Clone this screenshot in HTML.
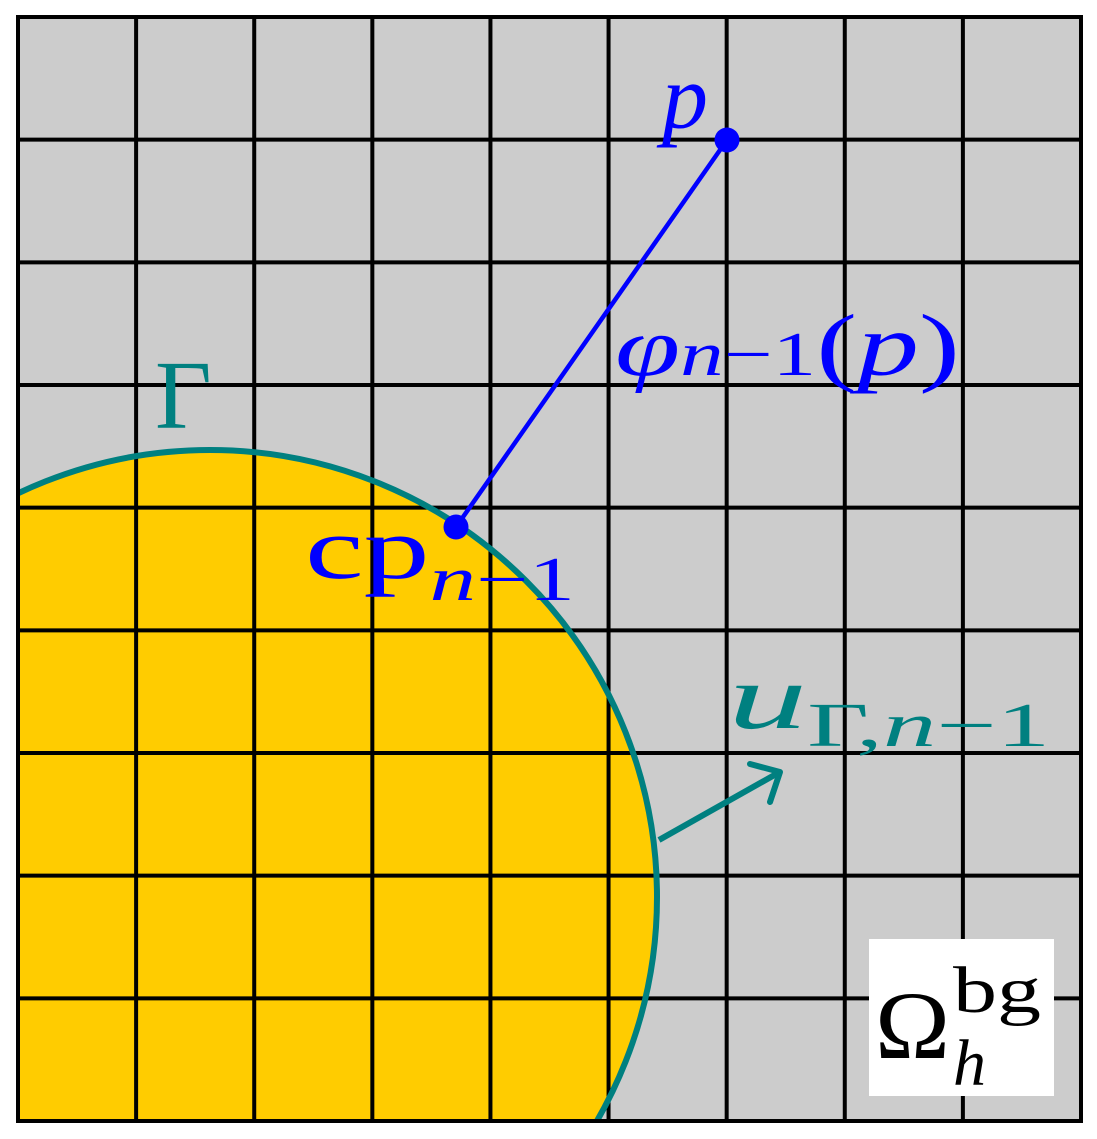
<!DOCTYPE html>
<html>
<head>
<meta charset="utf-8">
<style>
html,body{margin:0;padding:0;background:#fff;width:1097px;height:1139px;overflow:hidden;position:relative;}
svg{display:block;position:absolute;left:0;top:0;}
text{font-family:"Liberation Serif","DejaVu Serif",serif;}
</style>
</head>
<body>
<svg id="fig" width="1097" height="1139" viewBox="0 0 1097 1139" xmlns="http://www.w3.org/2000/svg">
  <defs>
    <clipPath id="box"><rect x="18" y="17" width="1063" height="1104"/></clipPath>
  </defs>
  <rect x="18" y="17" width="1063" height="1104" fill="#cccccc"/>
  <circle cx="210" cy="897" r="447" fill="#ffcc00" clip-path="url(#box)"/>
  <g id="grid" stroke="#000" stroke-width="4"></g>
  <circle cx="210" cy="897" r="447" fill="none" stroke="#008080" stroke-width="6" clip-path="url(#box)"/>
  <rect x="18" y="17" width="1063" height="1104" fill="none" stroke="#000" stroke-width="4"/>

  <line x1="727" y1="140" x2="456" y2="527" stroke="#0000ff" stroke-width="4.5"/>
  <circle cx="727" cy="140" r="12.5" fill="#0000ff"/>
  <circle cx="456" cy="527" r="12.5" fill="#0000ff"/>

  <line x1="659" y1="840" x2="778" y2="773" stroke="#008080" stroke-width="6"/>
  <polyline points="750,764 780,772 770,802" fill="none" stroke="#008080" stroke-width="6" stroke-linecap="round" stroke-linejoin="round"/>

  <text x="662" y="128" font-size="92" font-style="italic" fill="#0000ff">p</text>
  <text x="615" y="375" fill="#0000ff" textLength="345" lengthAdjust="spacingAndGlyphs"><tspan font-size="84" font-style="italic">φ</tspan><tspan font-size="62" font-style="italic">n</tspan><tspan font-size="62">−1</tspan><tspan font-size="88">(</tspan><tspan font-size="88" font-style="italic">p</tspan><tspan font-size="88">)</tspan></text>
  <text x="155" y="428" font-size="98" fill="#008080">Γ</text>
  <text x="305" y="578" fill="#0000ff" textLength="270" lengthAdjust="spacingAndGlyphs"><tspan font-size="88">cp</tspan><tspan font-size="62" font-style="italic" dy="22">n</tspan><tspan font-size="62">−1</tspan></text>
  <text x="728" y="728" fill="#008080" textLength="322" lengthAdjust="spacingAndGlyphs"><tspan font-size="92" font-style="italic">u</tspan><tspan font-size="62" dy="18">Γ,</tspan><tspan font-size="62" font-style="italic">n</tspan><tspan font-size="62">−1</tspan></text>

  <rect x="869" y="939" width="185" height="157" fill="#fff"/>
  <text x="875" y="1058" font-size="96" fill="#000" textLength="75" lengthAdjust="spacingAndGlyphs">Ω</text>
  <text x="953" y="1012" font-size="66" fill="#000" textLength="88" lengthAdjust="spacingAndGlyphs">bg</text>
  <text x="953" y="1085" font-size="66" font-style="italic" fill="#000">h</text>
</svg>
<script>
const colLines = [0,1,2,3,4,5,6,7,8,9];
const rowLines = [0,1,2,3,4,5,6,7,8,9];
const X0 = 18, X1 = 1081, Y0 = 17, Y1 = 1121;
const xs = i => X0 + (X1 - X0) * i / 9;
const ys = j => Y0 + (Y1 - Y0) * j / 9;
const g = document.getElementById('grid');
const NS = 'http://www.w3.org/2000/svg';
colLines.forEach(i => {
  const l = document.createElementNS(NS, 'line');
  l.setAttribute('x1', xs(i)); l.setAttribute('x2', xs(i));
  l.setAttribute('y1', Y0); l.setAttribute('y2', Y1);
  
  
  g.appendChild(l);
});
rowLines.forEach(j => {
  const l = document.createElementNS(NS, 'line');
  l.setAttribute('y1', ys(j)); l.setAttribute('y2', ys(j));
  l.setAttribute('x1', X0); l.setAttribute('x2', X1);
  
  
  g.appendChild(l);
});
</script>
</body>
</html>
